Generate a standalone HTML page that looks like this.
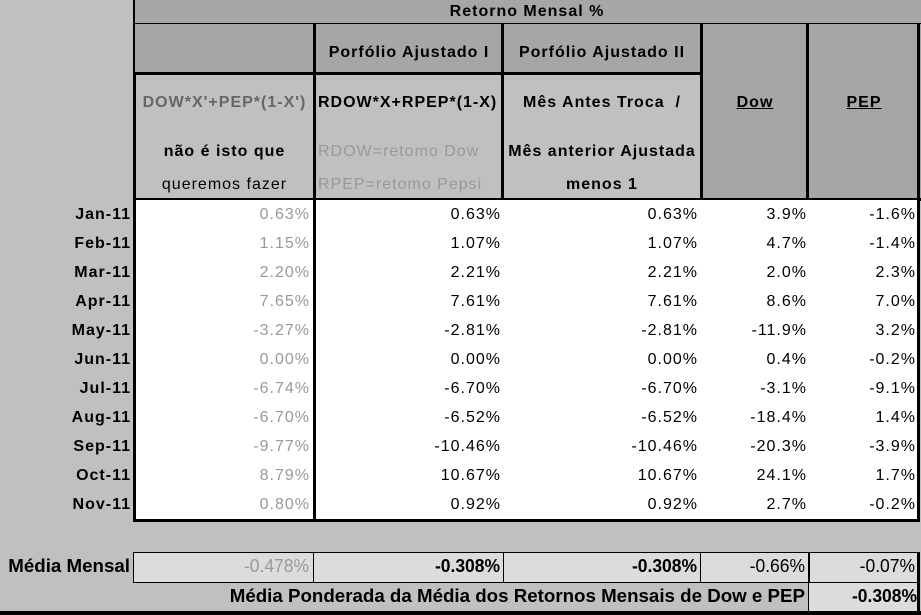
<!DOCTYPE html>
<html><head><meta charset="utf-8"><style>
body{margin:0;width:921px;height:615px;background:#c0c0c0;font-family:"Liberation Sans",sans-serif;position:relative;overflow:hidden}
div{position:absolute;box-sizing:border-box}
.t{font-size:16px;letter-spacing:1px;color:#000;white-space:nowrap}
.b{font-weight:bold}
.r{text-align:right}
.c{text-align:center}
.g{color:#999}
.n{font-size:18px;letter-spacing:0;transform:scaleX(.97);transform-origin:right center}
.w{transform:scaleX(1.04)}
</style></head><body>
<div style="left:133px;top:0;width:788px;height:25px;background:#a6a6a6;border-left:2px solid #000;border-bottom:2px solid #000"></div>
<div class="t b c" style="left:133px;top:3px;width:788px">Retorno Mensal %</div>
<div style="left:133px;top:72px;width:570px;height:129px;background:#c0c0c0;border-left:3px solid #000;border-bottom:3px solid #000"></div>
<div style="left:133px;top:24px;width:570px;height:51px;background:#a6a6a6;border-left:2px solid #000;border-bottom:3px solid #000"></div>
<div style="left:700px;top:24px;width:221px;height:177px;background:#a6a6a6;border-left:3px solid #000;border-bottom:3px solid #000"></div>
<div style="left:806px;top:24px;width:3px;height:177px;background:#000"></div>
<div style="left:313px;top:24px;width:3px;height:497px;background:#000"></div>
<div style="left:501px;top:24px;width:3px;height:177px;background:#000"></div>
<div style="left:917px;top:24px;width:3px;height:497px;background:#000"></div>
<div class="t b c" style="left:316px;top:44px;width:186px">Porfólio Ajustado I</div>
<div class="t b c" style="left:504px;top:44px;width:196px">Porfólio Ajustado II</div>
<div class="t b c" style="left:136px;top:94px;width:177px;color:#666">DOW*X'+PEP*(1-X')</div>
<div class="t b c" style="left:136px;top:143px;width:177px">não é isto que</div>
<div class="t c" style="left:136px;top:176px;width:177px">queremos fazer</div>
<div class="t b" style="left:318px;top:94px">RDOW*X+RPEP*(1-X)</div>
<div class="t" style="left:318px;top:143px;color:#999">RDOW=retomo Dow</div>
<div class="t" style="left:318px;top:176px;color:#999">RPEP=retomo Pepsi</div>
<div class="t b c" style="left:504px;top:94px;width:196px">Mês Antes Troca&nbsp; /</div>
<div class="t b c" style="left:504px;top:143px;width:196px">Mês anterior Ajustada</div>
<div class="t b c" style="left:504px;top:176px;width:196px">menos 1</div>
<div class="t b c" style="left:703px;top:94px;width:104px;text-decoration:underline">Dow</div>
<div class="t b c" style="left:809px;top:94px;width:110px;text-decoration:underline">PEP</div>
<div style="left:133px;top:200px;width:787px;height:322px;background:#fff;border-left:3px solid #000;border-bottom:3px solid #000;border-right:3px solid #000"></div>
<div style="left:313px;top:200px;width:3px;height:322px;background:#000"></div>
<div id="rows"></div>
<div style="left:133px;top:552px;width:787px;height:31px;background:#dcdcdc;border:1px solid #000"></div>
<div style="left:313px;top:552px;width:1px;height:31px;background:#000"></div>
<div style="left:503px;top:552px;width:1px;height:31px;background:#000"></div>
<div style="left:700px;top:552px;width:1px;height:31px;background:#000"></div>
<div style="left:808px;top:552px;width:2px;height:60px;background:#000"></div>
<div style="left:809px;top:583px;width:111px;height:29px;background:#dcdcdc"></div>
<div style="left:0;top:611px;width:921px;height:4px;background:#000"></div>
<div style="left:917px;top:552px;width:3px;height:62px;background:#000"></div>
<div class="t b r n w" style="left:0;top:556px;width:130px">Média Mensal</div>
<div class="t r n g" style="left:133px;top:556px;width:176px">-0.478%</div>
<div class="t b r n" style="left:316px;top:556px;width:184px">-0.308%</div>
<div class="t b r n" style="left:504px;top:556px;width:193px">-0.308%</div>
<div class="t r n" style="left:701px;top:556px;width:104px">-0.66%</div>
<div class="t r n" style="left:810px;top:556px;width:105px">-0.07%</div>
<div class="t b r n w" style="left:100px;top:586px;width:705px">Média Ponderada da Média dos Retornos Mensais de Dow e PEP</div>
<div class="t b r n" style="left:810px;top:586px;width:107px">-0.308%</div>
<script>
var d=[["Jan-11","0.63%","0.63%","0.63%","3.9%","-1.6%"],["Feb-11","1.15%","1.07%","1.07%","4.7%","-1.4%"],["Mar-11","2.20%","2.21%","2.21%","2.0%","2.3%"],["Apr-11","7.65%","7.61%","7.61%","8.6%","7.0%"],["May-11","-3.27%","-2.81%","-2.81%","-11.9%","3.2%"],["Jun-11","0.00%","0.00%","0.00%","0.4%","-0.2%"],["Jul-11","-6.74%","-6.70%","-6.70%","-3.1%","-9.1%"],["Aug-11","-6.70%","-6.52%","-6.52%","-18.4%","1.4%"],["Sep-11","-9.77%","-10.46%","-10.46%","-20.3%","-3.9%"],["Oct-11","8.79%","10.67%","10.67%","24.1%","1.7%"],["Nov-11","0.80%","0.92%","0.92%","2.7%","-0.2%"]];
var h="",R=[131,310,501,698,807,916],L=[0,136,316,504,701,810];
d.forEach(function(r,i){var y=206+i*29;r.forEach(function(v,j){h+='<div class="t r'+(j==0?' b':'')+(j==1?' g':'')+'" style="left:'+L[j]+'px;top:'+y+'px;width:'+(R[j]-L[j])+'px">'+v+'</div>';});});
document.getElementById("rows").outerHTML=h;
</script>
</body></html>
